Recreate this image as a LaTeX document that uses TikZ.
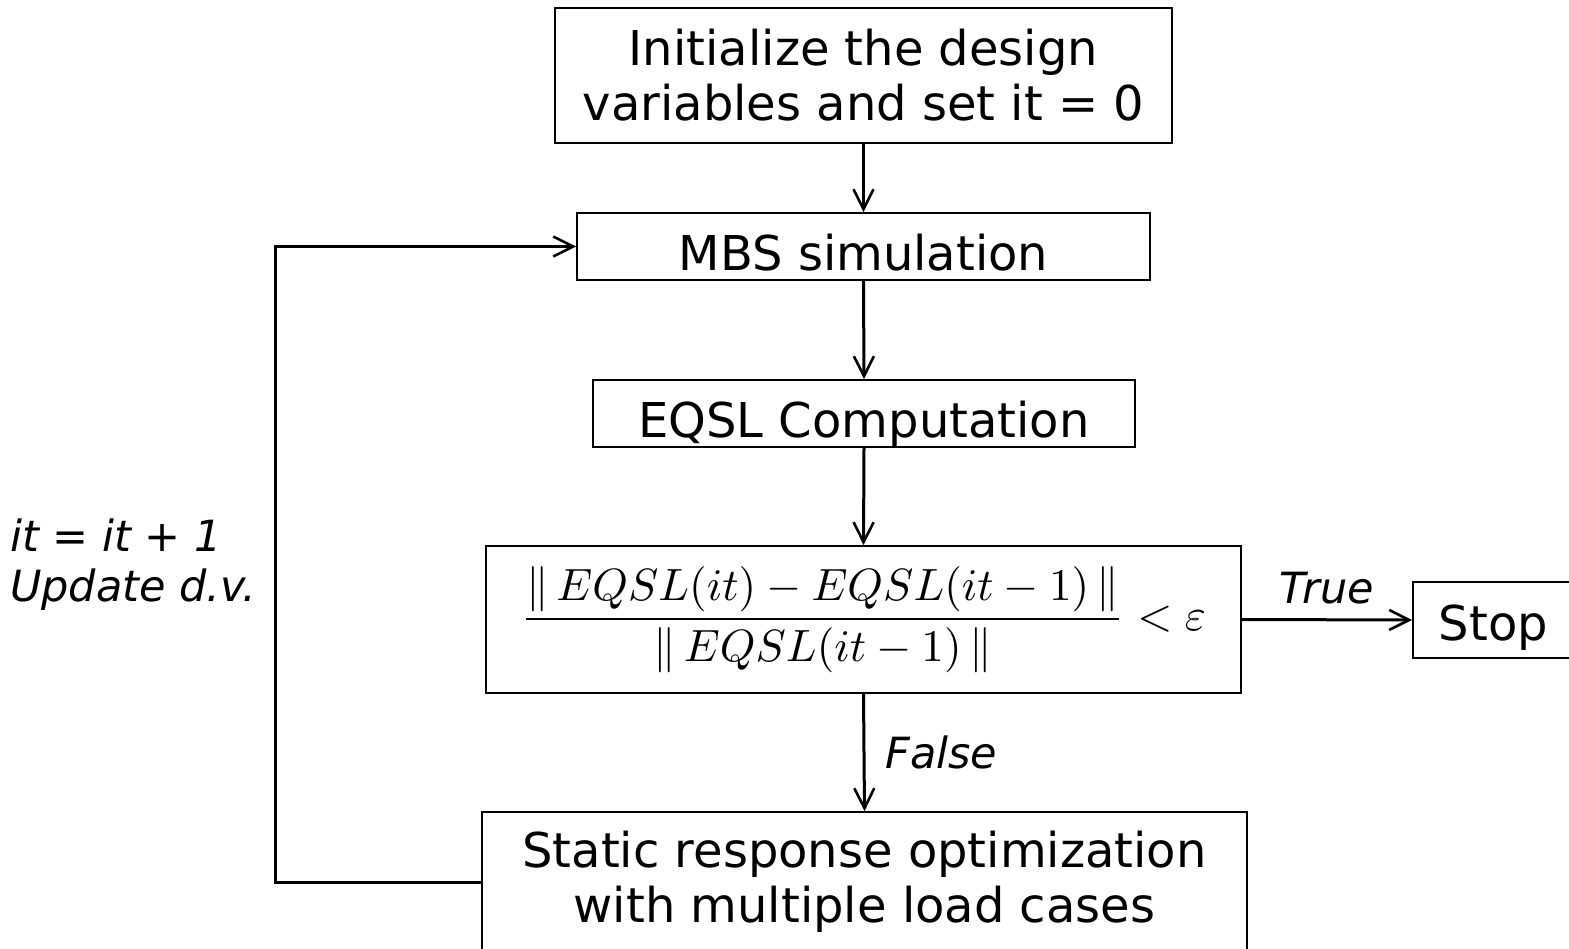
\documentclass[tikz,border=0pt]{standalone}
\usepackage{graphicx}
\usepackage[no-math]{fontspec}
\setmainfont{DejaVu Sans}
\usetikzlibrary{arrows.meta}

\tikzset{
  box/.style={draw, line width=1.8pt, inner sep=0pt, align=center,
    font=\fontsize{48}{55}\selectfont},
  onebox/.style={box, text height=49pt, text depth=0pt},
  flow/.style={line width=3pt,
    -{Straight Barb[length=20pt,width=20pt,line width=2.6pt]}},
  lbl/.style={font=\fontsize{43}{50}\selectfont\itshape, inner sep=0pt}
}

\begin{document}
\begin{tikzpicture}[x=1pt,y=-1pt]
\useasboundingbox (0,0) rectangle (1569,949);

\node[box, minimum width=617pt, minimum height=135pt] (init) at (863.5,75.5)
  {Initialize the design\\variables and set it = 0};
\node[onebox, minimum width=573pt, minimum height=67pt] (mbs) at (863.5,246.5)
  {MBS simulation};
\node[onebox, minimum width=542pt, minimum height=67pt] (eqsl) at (864,413.5)
  {EQSL Computation};
\node[box, minimum width=755pt, minimum height=147pt] (cond) at (863.5,619.5)
  {\scalebox{4.52}{\fontsize{10}{12}\selectfont
   $\displaystyle \frac{\|\,EQSL(it)-EQSL(it-1)\,\|}{\|\,EQSL(it-1)\,\|}<\varepsilon$}};
\node[box, minimum width=765pt, minimum height=140pt] (opt) at (864.5,882)
  {Static response optimization\\with multiple load cases};
\node[box, text height=40pt, text depth=0pt, minimum width=161pt,
  minimum height=76pt] (stop) at (1493.5,620) {Stop};

\coordinate (loop) at (275,882);

\draw[flow] (init.south) -- (mbs.north);
\draw[flow] (mbs.south) -- (eqsl.north);
\draw[flow] (eqsl.south) -- (cond.north);
\draw[flow] (cond.south) -- node[lbl, right=20pt] (false) {False} (opt.north);
\draw[flow] (cond.east) -- node[lbl, above=14pt] (true) {True} (stop.west);
\draw[flow] (opt.west) -- (loop) |- (mbs.west);

\node[lbl, anchor=west, align=left] (upd) at (10,565)
  {it = it + 1\\Update d.v.};
\end{tikzpicture}
\end{document}
